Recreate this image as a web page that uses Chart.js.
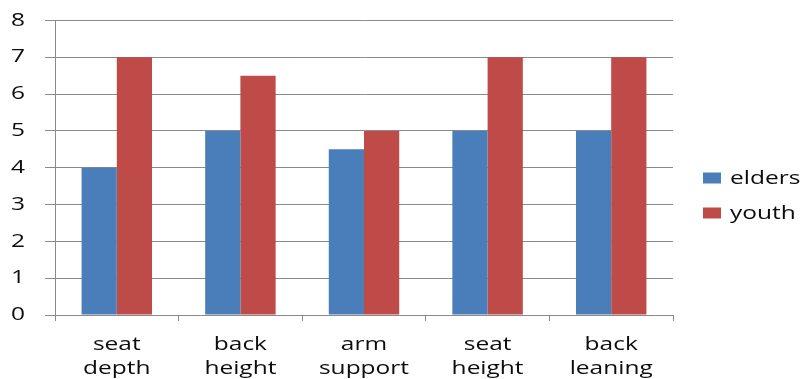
<!DOCTYPE html>
<html>
<head>
<meta charset="utf-8">
<script src="https://cdn.jsdelivr.net/npm/chart.js@4/dist/chart.umd.min.js"></script>
<style>
  html, body { margin: 0; padding: 0; background: #fff; }
  #wrap { width: 805px; height: 379px; }
</style>
</head>
<body>
<div id="wrap"><canvas id="c"></canvas></div>
<script>
// Chair-dimension ratings per group
const categories = [["seat", "depth"], ["back", "height"], ["arm", "support"], ["seat", "height"], ["back", "leaning"]];
const elders = [4, 5, 4.5, 5, 5];
const youth = [7, 6.5, 5, 7, 7];
const yTicks = [0, 1, 2, 3, 4, 5, 6, 7, 8];

const FONT = "'Open Sans', 'DejaVu Sans', sans-serif";
const TEXT_STRETCH = 1.36; // wide lettering: text is drawn horizontally scaled

const canvas = document.getElementById('c');
const ctx = canvas.getContext('2d');

// Horizontally stretch every piece of text the chart draws, and report the
// stretched width so the layout leaves room for it.
(function stretchText(c, sx) {
  const fill = c.fillText.bind(c);
  const measure = c.measureText.bind(c);
  c.fillText = function (t, x, y) {
    this.save();
    this.translate(x, y);
    this.scale(sx, 1);
    fill(t, 0, 0);
    this.restore();
  };
  c.measureText = function (t) {
    const m = measure(t);
    return {
      width: m.width * sx,
      actualBoundingBoxAscent: m.actualBoundingBoxAscent,
      actualBoundingBoxDescent: m.actualBoundingBoxDescent,
      actualBoundingBoxLeft: m.actualBoundingBoxLeft * sx,
      actualBoundingBoxRight: m.actualBoundingBoxRight * sx
    };
  };
})(ctx, TEXT_STRETCH);

// Legend drawn to the right of the plot area, one swatch + label per dataset.
const sideLegend = {
  id: 'sideLegend',
  afterDraw(chart) {
    const c = chart.ctx;
    const area = chart.chartArea;
    const sets = chart.data.datasets;
    const gap = 35;
    const midY = chart.height / 2 + 6;
    c.save();
    c.font = '18px ' + FONT;
    c.textAlign = 'left';
    c.textBaseline = 'middle';
    sets.forEach((ds, i) => {
      const y = midY + (i - (sets.length - 1) / 2) * gap;
      c.fillStyle = ds.backgroundColor;
      c.fillRect(area.right + 30, y - 5.5, 18, 11);
      c.fillStyle = '#0d0d0d';
      c.fillText(ds.label, area.right + 57, y + 1);
    });
    c.restore();
  }
};

new Chart(canvas, {
  type: 'bar',
  data: {
    labels: categories,
    datasets: [
      { label: 'elders', data: elders, backgroundColor: '#4A7EBB', borderWidth: 0 },
      { label: 'youth', data: youth, backgroundColor: '#BE4B48', borderWidth: 0 }
    ]
  },
  plugins: [sideLegend],
  options: {
    responsive: true,
    maintainAspectRatio: false,
    animation: false,
    datasets: { bar: { categoryPercentage: 0.57, barPercentage: 1.0 } },
    layout: { padding: { top: 20.5, right: 132, left: 0, bottom: 0 } },
    plugins: {
      tooltip: { enabled: false },
      legend: { display: false }
    },
    scales: {
      x: {
        afterFit: (scale) => { scale.height = 64; },
        grid: {
          display: true,
          drawOnChartArea: false,
          drawTicks: true,
          tickLength: 6,
          color: '#8a8a8a',
          offset: true
        },
        border: { display: true, color: '#8a8a8a', width: 1 },
        ticks: {
          color: '#0d0d0d',
          font: { family: FONT, size: 18, lineHeight: 1.3 },
          padding: 12.3,
          maxRotation: 0,
          autoSkip: false
        }
      },
      y: {
        min: 0,
        max: 8,
        afterFit: (scale) => {
          scale.width = 55;
          scale.paddingTop = 0;
          scale.paddingBottom = 0;
        },
        afterBuildTicks: (axis) => { axis.ticks = yTicks.map(v => ({ value: v })); },
        grid: {
          color: '#8a8a8a',
          lineWidth: 1,
          tickLength: 10,
          drawTicks: true
        },
        border: { display: true, color: '#8a8a8a', width: 1 },
        ticks: {
          color: '#0d0d0d',
          font: { family: FONT, size: 18 },
          padding: 20
        }
      }
    }
  }
});
</script>
</body>
</html>
